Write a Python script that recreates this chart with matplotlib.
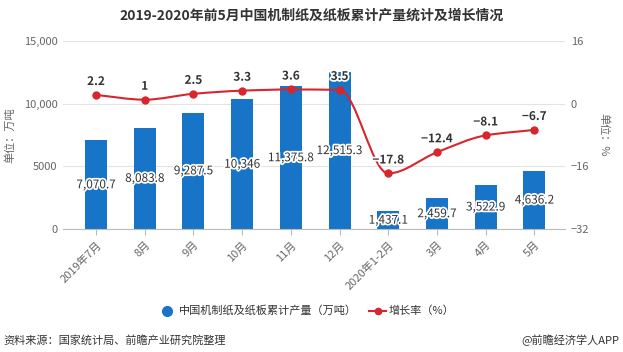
import numpy as np
import matplotlib
matplotlib.use("Agg")
import matplotlib.pyplot as plt
from matplotlib.path import Path
from matplotlib.patches import PathPatch
import matplotlib.patheffects as pe

plt.rcParams['font.family'] = ['Noto Sans CJK SC', 'DejaVu Sans']

### data ###
months = ['2019年7月', '8月', '9月', '10月', '11月', '12月', '2020年1-2月', '3月', '4月', '5月']
output = [7070.7, 8083.8, 9287.5, 10346, 11375.8, 12515.3, 1437.1, 2459.7, 3522.9, 4636.2]
output_lbl = ['7,070.7', '8,083.8', '9,287.5', '10,346', '11,375.8', '12,515.3', '1,437.1', '2,459.7', '3,522.9', '4,636.2']
growth = [2.2, 1, 2.5, 3.3, 3.6, 3.5, -17.8, -12.4, -8.1, -6.7]
growth_lbl = ['2.2', '1', '2.5', '3.3', '3.6', '3.5', '\u221217.8', '\u221212.4', '\u22128.1', '\u22126.7']

bar_col = '#1874c6'
line_col = '#d7262d'
grey = '#666666'

fig = plt.figure(figsize=(6.23, 3.52), dpi=100)
ax = fig.add_axes([0.101, 0.349, 0.806, 0.535])
x = np.arange(len(months))

# bars
ax.bar(x, output, width=0.45, color=bar_col, zorder=2)
ax.set_ylim(0, 15000)
ax.set_xlim(-0.68, 9.63)
ax.set_yticks([0, 5000, 10000, 15000])
ax.set_yticklabels(['0', '5000', '10,000', '15,000'])
ax.grid(axis='y', color='#e3e3e3', linewidth=0.8, zorder=0)
ax.set_axisbelow(True)
for s in ['top', 'right', 'left']:
    ax.spines[s].set_visible(False)
ax.spines['bottom'].set_color('#bbbbbb')
ax.tick_params(axis='y', length=0, labelsize=8, colors=grey, pad=4)
ax.tick_params(axis='x', length=4, color='#bbbbbb', labelsize=8, colors=grey)
ax.set_xticks(x)
ax.set_xticklabels(months, rotation=45, ha='right', rotation_mode='anchor')
ax.set_ylabel('单位：万吨', fontsize=8, color=grey, labelpad=6)

halo = [pe.withStroke(linewidth=2.5, foreground='white')]
for xi, v, t in zip(x, output, output_lbl):
    ax.text(xi, v / 2, t, ha='center', va='center', fontsize=8.5, color='#333333',
            path_effects=halo, zorder=5)

# growth line on right axis
ax2 = ax.twinx()
ax2.set_ylim(-32, 16)
ax2.set_yticks([-32, -16, 0, 16])
for s in ax2.spines.values():
    s.set_visible(False)
ax2.tick_params(axis='y', length=0, labelsize=8, colors=grey, pad=4)
ax2.set_ylabel('单位：%', fontsize=8, color=grey, rotation=270, labelpad=14)

# smooth monotone curve through the points (cubic Bezier segments)
xs = x.astype(float)
ys = np.array(growth, dtype=float)
d = np.diff(ys)
m = np.zeros_like(ys)
for i in range(1, len(ys) - 1):
    if d[i - 1] * d[i] > 0:
        m[i] = 2.0 / (1.0 / d[i - 1] + 1.0 / d[i])
m[0] = d[0]
m[-1] = d[-1]
verts = [(xs[0], ys[0])]
codes = [Path.MOVETO]
for i in range(len(ys) - 1):
    verts += [(xs[i] + 1 / 3, ys[i] + m[i] / 3), (xs[i + 1] - 1 / 3, ys[i + 1] - m[i + 1] / 3),
              (xs[i + 1], ys[i + 1])]
    codes += [Path.CURVE4] * 3
ax2.add_patch(PathPatch(Path(verts, codes), facecolor='none', edgecolor=line_col,
                        linewidth=1.5, zorder=3))
ax2.plot(x, growth, 'o', color=line_col, markersize=5, zorder=4)
for xi, g, t in zip(x, growth, growth_lbl):
    ax2.annotate(t, (xi, g), xytext=(0, 5), textcoords='offset points', ha='center',
                 va='bottom', fontsize=8.5, fontweight='bold', color='#333333',
                 path_effects=halo, zorder=6)

# title
fig.text(0.5, 0.955, '2019-2020年前5月中国机制纸及纸板累计产量统计及增长情况',
         ha='center', va='center', fontsize=10, fontweight='bold', color='#333333')

# legend
ly = 1 - 311 / 352
fig.lines.append(plt.Line2D([0.268], [ly], marker='o', color=bar_col,
                            markersize=7, linestyle='None', transform=fig.transFigure))
fig.text(0.287, ly, '中国机制纸及纸板累计产量（万吨）', ha='left', va='center',
         fontsize=8, color='#333333')
fig.lines.append(plt.Line2D([0.593, 0.619], [ly] * 2, color=line_col,
                            linewidth=1.5, transform=fig.transFigure))
fig.lines.append(plt.Line2D([0.606], [ly], marker='o', color=line_col,
                            markersize=4.5, transform=fig.transFigure))
fig.text(0.623, ly, '增长率（%）', ha='left', va='center', fontsize=8,
         color='#333333')

# footer
fig.text(0.006, 1 - 340 / 352, '资料来源：国家统计局、前瞻产业研究院整理', ha='left', va='center',
         fontsize=8, color='#333333')
fig.text(0.994, 1 - 340 / 352, '@前瞻经济学人APP', ha='right', va='center',
         fontsize=8, color='#333333')

fig.savefig('out.png', dpi=100)
